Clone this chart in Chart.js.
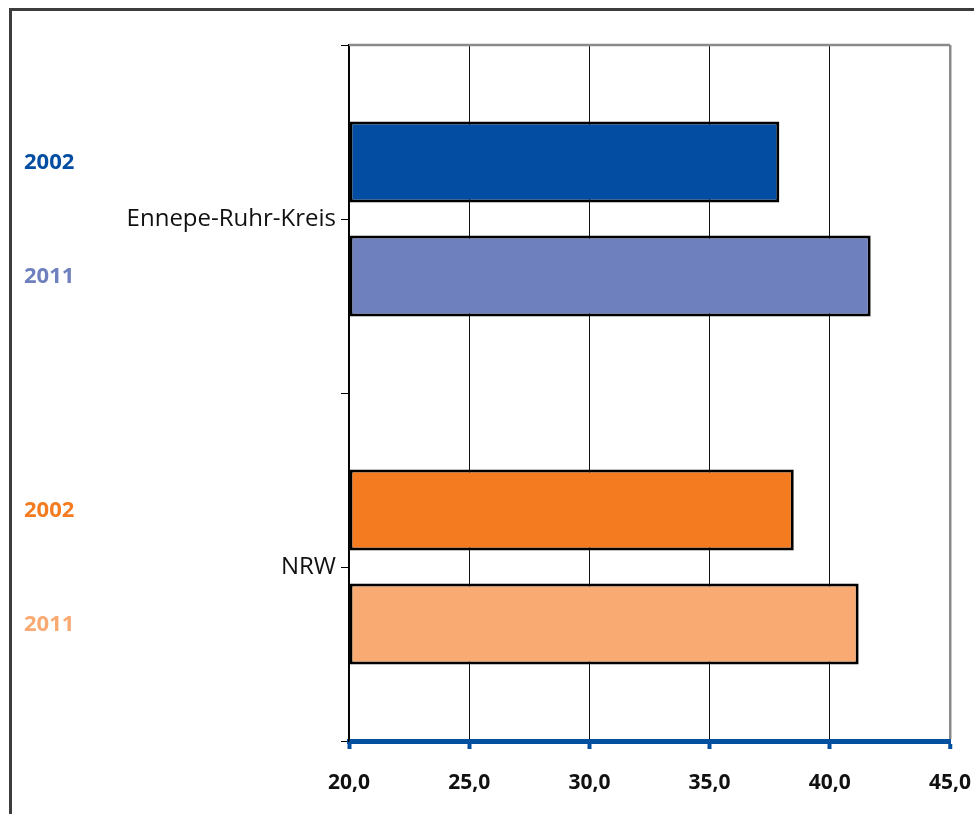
<!DOCTYPE html>
<html>
<head>
<meta charset="utf-8">
<script src="https://cdn.jsdelivr.net/npm/chart.js@4"></script>
<style>
html,body{margin:0;padding:0;background:#fff;overflow:hidden}
#wrap{position:relative;width:974px;height:814px}
</style>
</head>
<body>
<div id="wrap"><canvas id="chart"></canvas></div>
<script>
'use strict';

// data
const categories = ['Ennepe-Ruhr-Kreis', 'NRW'];
const years = ['2002', '2011'];
const values2002 = [37.9, 38.5];
const values2011 = [41.7, 41.2];
const xTicks = [20, 25, 30, 35, 40, 45];
const colors2002 = ['#034ea2', '#f47b20'];
const colors2011 = ['#6f80be', '#f9aa72'];

const FONT = '"Open Sans", "Noto Sans", sans-serif';

// outer frame, top border of plot, centre ticks and year labels
const decoPlugin = {
  id: 'deco',
  beforeDraw(chart) {
    const c = chart.ctx;
    c.save();
    c.strokeStyle = '#3c3c3c';
    c.lineWidth = 3;
    c.strokeRect(10.5, 9.5, chart.width + 20, chart.height + 20);
    c.restore();
  },
  beforeDatasetsDraw(chart) {
    const a = chart.chartArea, c = chart.ctx;
    c.save();
    c.strokeStyle = '#8a8a8a';
    c.lineWidth = 2.5;
    c.beginPath(); c.moveTo(a.left, a.top); c.lineTo(a.right, a.top); c.stroke();
    c.restore();
  },
  afterDraw(chart) {
    const c = chart.ctx, y = chart.scales.y, a = chart.chartArea;
    c.save();
    c.strokeStyle = '#000'; c.lineWidth = 1;
    categories.forEach((_, i) => {
      const py = Math.round(y.getPixelForValue(i)) + 0.5;
      c.beginPath(); c.moveTo(a.left - 8, py); c.lineTo(a.left, py); c.stroke();
    });
    c.font = 'bold 22px ' + FONT;
    c.textAlign = 'left'; c.textBaseline = 'middle';
    chart.data.datasets.forEach((ds, di) => {
      chart.getDatasetMeta(di).data.forEach((bar, i) => {
        c.fillStyle = ds.backgroundColor[i];
        c.fillText(ds.label, 24, bar.y + 1);
      });
    });
    c.restore();
  }
};

new Chart(document.getElementById('chart'), {
  type: 'bar',
  data: {
    labels: categories,
    datasets: [
      { label: years[0], data: values2002, backgroundColor: colors2002 },
      { label: years[1], data: values2011, backgroundColor: colors2011 }
    ]
  },
  options: {
    indexAxis: 'y',
    responsive: true, maintainAspectRatio: false, animation: false,
    layout: { padding: { left: 0, top: 45, right: 24, bottom: 0 } },
    datasets: { bar: { base: 20, borderColor: '#000', borderWidth: 3, borderSkipped: false, categoryPercentage: 0.655, barPercentage: 0.71 } },
    plugins: { legend: { display: false }, tooltip: { enabled: false } },
    scales: {
      x: {
        type: 'linear', min: 20, max: 45,
        afterBuildTicks: s => { s.ticks = xTicks.map(v => ({ value: v })); },
        afterFit: s => { s.height = 73; s.paddingLeft = 0; s.paddingRight = 0; },
        border: { color: '#0350a0', width: 5 },
        grid: {
          color: ctx => ctx.tick && ctx.tick.value === 45 ? '#8a8a8a' : '#111',
          lineWidth: ctx => ctx.tick && ctx.tick.value === 45 ? 2.5 : 1,
          tickColor: '#0350a0', tickWidth: 4, tickLength: 8
        },
        ticks: {
          padding: 21, color: '#111', font: { family: FONT, size: 21, weight: 'bold' },
          callback: v => v.toFixed(1).replace('.', ',')
        }
      },
      y: {
        afterFit: s => { s.width = 349; },
        border: { color: '#000', width: 1.5 },
        grid: { offset: true, drawOnChartArea: false, tickLength: 8, color: '#000' },
        ticks: { padding: 5, color: '#111', font: { family: FONT, size: 24 } }
      }
    }
  },
  plugins: [decoPlugin]
});
</script>
</body>
</html>
